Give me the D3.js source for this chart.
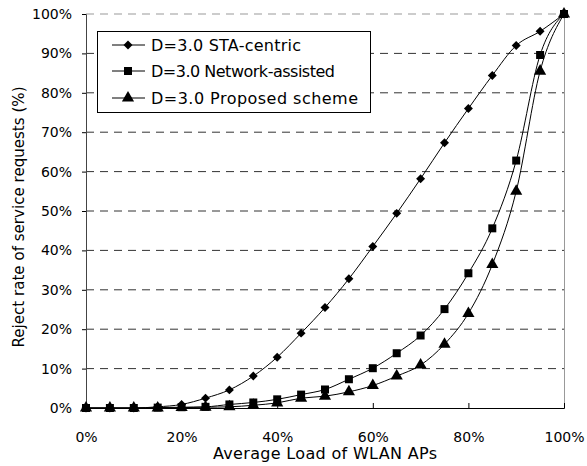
<!DOCTYPE html>
<html><head><meta charset="utf-8">
<script src="https://cdn.jsdelivr.net/npm/d3@7/dist/d3.min.js"></script>
<style>body{margin:0;background:#fff}svg{display:block}text{font-family:"DejaVu Sans",sans-serif;fill:#000}</style>
</head><body>
<script>
const loads = [0,5,10,15,20,25,30,35,40,45,50,55,60,65,70,75,80,85,90,95,100];
const staCentric = [0,0,0,0.3,0.9,2.5,4.6,8.1,12.9,19.0,25.5,32.8,41.0,49.4,58.2,67.3,76.0,84.4,92.0,95.6,100];
const networkAssisted = [0,0,0,0.1,0.2,0.3,0.9,1.4,2.2,3.4,4.7,7.3,10.1,13.9,18.4,25.1,34.2,45.6,62.8,89.6,100];
const proposed = [0,0,0,0,0.1,0.2,0.3,0.7,1.3,2.5,3.0,4.1,5.7,8.1,10.9,16.2,24.0,36.4,55.0,85.5,100];
const seriesNames = ["D=3.0 STA-centric","D=3.0 Network-assisted","D=3.0 Proposed scheme"];
const xTicks = [0,20,40,60,80,100];
const yTicks = [0,10,20,30,40,50,60,70,80,90,100];
const xTitle = "Average Load of WLAN APs";
const yTitle = "Reject rate of service requests (%)";

const W=587,H=466;
const svg=d3.select("body").append("svg").attr("width",W).attr("height",H);
const x=d3.scaleLinear().domain([0,100]).range([86,564]);
const y=d3.scaleLinear().domain([0,100]).range([408,14]);

// gridlines
svg.append("g").selectAll("line").data(yTicks.filter(d=>d>0)).join("line")
  .attr("x1",x(0)).attr("x2",x(100)).attr("y1",d=>y(d)).attr("y2",d=>y(d))
  .attr("stroke",d=>d===100?"#999":"#333").attr("stroke-width",1).attr("stroke-dasharray","8,6");
// right border
svg.append("line").attr("x1",x(100)+0.5).attr("x2",x(100)+0.5).attr("y1",y(100)).attr("y2",y(0)).attr("stroke","#999");

// axes
const yAxis=d3.axisLeft(y).tickValues(yTicks).tickFormat(d=>d+"%").tickSize(4).tickPadding(10);
const gy=svg.append("g").attr("transform",`translate(${x(0)},0)`).call(yAxis);
gy.select(".domain").attr("stroke","#444");
gy.selectAll("text").style("font-size","14px");
const xAxis=d3.axisBottom(x).tickValues(xTicks).tickFormat(d=>d+"%").tickSize(-5).tickPadding(24);
const gx=svg.append("g").attr("transform",`translate(0,${y(0)})`).call(xAxis);
gx.selectAll("text").style("font-size","14px");

svg.append("text").attr("x",325).attr("y",459).attr("text-anchor","middle").style("font-size","16px")
  .attr("textLength",224).attr("lengthAdjust","spacing").text(xTitle);
svg.append("text").attr("transform","translate(24,217) rotate(-90)").attr("text-anchor","middle").style("font-size","15px")
  .attr("textLength",261).attr("lengthAdjust","spacing").text(yTitle);

const all=[staCentric,networkAssisted,proposed];
const line=d3.line().x((d,i)=>x(loads[i])).y(d=>y(d)).curve(d3.curveMonotoneX);
const symbols=[d3.symbolSquare,d3.symbolSquare,d3.symbolTriangle];
const sizes=[40,64,64];
const rot=[45,0,0];
all.forEach((s,k)=>{
  svg.append("path").attr("d",line(s)).attr("fill","none").attr("stroke","#000").attr("stroke-width",1);
  svg.append("g").selectAll("path").data(s).join("path")
    .attr("transform",(d,i)=>`translate(${x(loads[i])},${y(d)}) rotate(${rot[k]})`)
    .attr("d",d3.symbol().type(symbols[k]).size(sizes[k])).attr("fill","#000");
});

// legend
const lg=svg.append("g");
lg.append("rect").attr("x",97.5).attr("y",31.5).attr("width",273).attr("height",81).attr("fill","#fff").attr("stroke","#000");
const ly=[45,71,98];
const lw=[150,184,207];
seriesNames.forEach((n,k)=>{
  lg.append("line").attr("x1",112).attr("x2",145).attr("y1",ly[k]).attr("y2",ly[k]).attr("stroke","#000");
  lg.append("path").attr("transform",`translate(128,${ly[k]}) rotate(${rot[k]})`).attr("d",d3.symbol().type(symbols[k]).size(sizes[k])).attr("fill","#000");
  lg.append("text").attr("x",151).attr("y",ly[k]+6).style("font-size","16px").attr("textLength",lw[k]).attr("lengthAdjust","spacing").text(n);
});
</script>
</body></html>
